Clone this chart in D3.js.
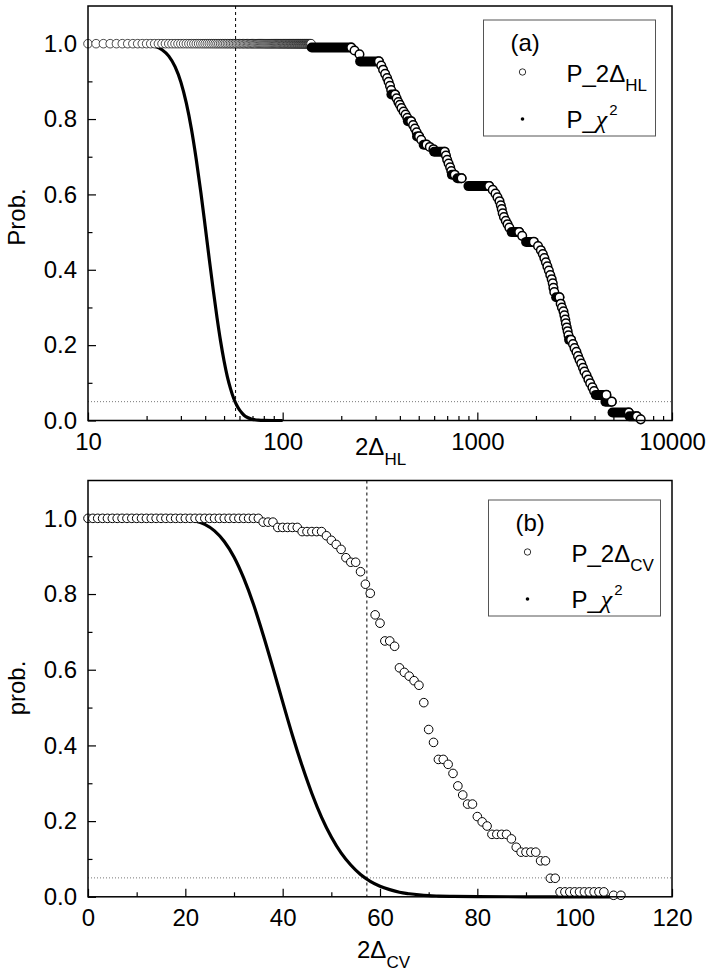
<!DOCTYPE html>
<html>
<head>
<meta charset="utf-8">
<script src="https://cdn.jsdelivr.net/npm/d3@7"></script>
<style>
  body { margin: 0; background: #fff; }
  svg text { font-family: Arial, "Liberation Sans", sans-serif; fill: #000; }
</style>
</head>
<body>
<svg id="chart" width="714" height="974"></svg>
<script>
// ---- chi-square survival curve ----
const chiX = [0, 5, 10, 15, 20, 22, 24, 26, 28, 30, 32, 34, 36, 38, 40, 42, 44, 46, 48, 50,
  52, 54, 56, 58, 60, 62, 64, 66, 68, 70, 72, 75, 80, 90, 100, 110];
const chiP = [1, 1, 1, 0.9999, 0.9976, 0.9933, 0.984, 0.967, 0.939, 0.898, 0.842, 0.773, 0.692,
  0.605, 0.515, 0.427, 0.346, 0.273, 0.21, 0.158, 0.116, 0.084, 0.059, 0.041, 0.028, 0.019,
  0.012, 0.008, 0.005, 0.003, 0.002, 0.001, 0.0003, 0, 0, 0];

// ---- panel (a): P_2Δ_HL ----
// open circles sitting on 1.0 at the left
const hlChainX = [10, 11, 12, 13, 14, 15, 16, 17, 18, 19, 20, 21, 22, 23, 24, 25, 26, 27, 28, 29,
  30, 31, 32, 33, 34, 35, 36, 37, 38, 39, 40, 41, 42, 43, 44, 45, 46, 47, 48, 49, 50, 51, 52, 53,
  54, 55, 56, 57, 58, 59, 60, 61, 62, 63, 64, 65, 66, 67, 68, 69, 70, 71, 72, 73, 74, 75, 76, 77,
  78, 79, 80, 81, 82, 83, 84, 85, 86, 87, 88, 89, 90, 91, 92, 93, 94, 95, 96, 97, 98, 99, 100,
  101, 102, 103, 104, 105, 106, 107, 108, 109, 110, 111, 112, 113, 114, 115, 116, 117, 118, 119,
  120, 121, 122, 123, 124, 125, 126, 127, 128, 129, 130, 131, 132, 133, 134, 135, 136, 137, 138,
  139, 140];
const hlChainLevel = 1.0;
// plateaus where circles pile up into black bars: [xStart, xEnd, prob]
const hlBands = [
  [141, 225, 0.99], [250, 312, 0.953], [362, 378, 0.865], [440, 457, 0.794], [490, 502, 0.754],
  [530, 548, 0.732], [600, 680, 0.713], [740, 765, 0.652], [790, 830, 0.643], [900, 1150, 0.622],
  [1500, 1640, 0.5], [1780, 1950, 0.474], [2540, 2640, 0.327], [2960, 3030, 0.214],
  [4060, 4600, 0.068], [4550, 4900, 0.05], [4950, 6000, 0.021], [6050, 6600, 0.011]
];
// single visible circles: [x, prob]
const hlDots = [
  [225, 0.99], [234, 0.982], [248, 0.972], [312, 0.953],
  [321, 0.942], [328, 0.931], [336, 0.92], [344, 0.909], [350, 0.899], [356, 0.888], [361, 0.877], [378, 0.865],
  [385, 0.855], [393, 0.845], [400, 0.838], [408, 0.829], [418, 0.82], [428, 0.812], [437, 0.803], [457, 0.794],
  [468, 0.784], [478, 0.775], [488, 0.765], [502, 0.754], [515, 0.745], [548, 0.732],
  [570, 0.726], [595, 0.72], [680, 0.713],
  [690, 0.703], [700, 0.692], [712, 0.682], [725, 0.672], [735, 0.662], [765, 0.652], [830, 0.643],
  [1150, 0.622], [1200, 0.612], [1240, 0.602], [1270, 0.592], [1300, 0.582], [1320, 0.571],
  [1335, 0.561], [1350, 0.55], [1370, 0.54], [1400, 0.53], [1430, 0.521], [1460, 0.512], [1640, 0.5],
  [1700, 0.49], [1950, 0.474],
  [2050, 0.463], [2120, 0.452], [2170, 0.442], [2210, 0.431], [2250, 0.42], [2290, 0.409],
  [2330, 0.398], [2370, 0.386], [2410, 0.375], [2440, 0.364], [2460, 0.352], [2485, 0.341], [2640, 0.327],
  [2680, 0.31], [2720, 0.3], [2770, 0.29], [2800, 0.279], [2830, 0.268], [2850, 0.258], [2880, 0.247],
  [2910, 0.237], [2940, 0.226], [3030, 0.214],
  [3100, 0.203], [3160, 0.192], [3230, 0.182], [3290, 0.171], [3350, 0.161], [3420, 0.151],
  [3490, 0.14], [3550, 0.13], [3640, 0.12], [3720, 0.109], [3800, 0.099], [3900, 0.088],
  [3980, 0.078], [4600, 0.068], [4900, 0.05], [6000, 0.021], [6600, 0.011], [6905, 0.003]
];

// ---- panel (b): P_2Δ_CV ----
const cvX = [0, 1, 2, 3, 4, 5, 6, 7, 8, 9, 10, 11, 12, 13, 14, 15, 16, 17, 18, 19, 20, 21, 22, 23,
  24, 25, 26, 27, 28, 29, 30, 31, 32, 33, 34, 35, 36, 37, 38, 39, 40, 41, 42, 43, 44, 45, 46, 47,
  48, 49, 50, 51, 52, 53, 54, 55, 56, 57, 58, 59, 60, 61, 62, 63, 64, 65, 66, 67, 68, 69, 70, 71,
  72, 73, 74, 75, 76, 77, 78, 79, 80, 81, 82, 83, 84, 85, 86, 87, 88, 89, 90, 91, 92, 93, 94, 95,
  96, 97, 98, 99, 100, 101, 102, 103, 104, 105, 106, 108, 109.5];
const cvP = [1, 1, 1, 1, 1, 1, 1, 1, 1, 1, 1, 1, 1, 1, 1, 1, 1, 1, 1, 1, 1, 1, 1, 1,
  1, 1, 1, 1, 1, 1, 1, 1, 1, 1, 1, 1, 0.99, 0.99, 0.99, 0.976, 0.976, 0.976, 0.976, 0.976,
  0.965, 0.965, 0.965, 0.965, 0.965, 0.954, 0.942, 0.931, 0.918, 0.896, 0.884, 0.884, 0.859,
  0.826, 0.802, 0.745, 0.723, 0.676, 0.676, 0.662, 0.605, 0.593, 0.583, 0.571, 0.559, 0.513,
  0.442, 0.408, 0.363, 0.363, 0.35, 0.326, 0.293, 0.269, 0.245, 0.245, 0.212, 0.198, 0.187,
  0.165, 0.165, 0.165, 0.165, 0.153, 0.131, 0.118, 0.118, 0.118, 0.118, 0.095, 0.095, 0.049,
  0.049, 0.013, 0.013, 0.013, 0.013, 0.013, 0.013, 0.013, 0.013, 0.013, 0.013, 0.004, 0.004];

// ---- axes / reference values ----
const yMajor = [0, 0.2, 0.4, 0.6, 0.8, 1.0];
const yMinor = [0.1, 0.3, 0.5, 0.7, 0.9];
const logMajor = [10, 100, 1000, 10000];
const logMinor = [20, 30, 40, 50, 60, 70, 80, 90, 200, 300, 400, 500, 600, 700, 800, 900,
  2000, 3000, 4000, 5000, 6000, 7000, 8000, 9000];
const linMajor = [0, 20, 40, 60, 80, 100, 120];
const linMinor = [10, 30, 50, 70, 90, 110];
const critX = 57.3;   // vertical dashed line
const critP = 0.05;   // horizontal dotted line

const svg = d3.select('#chart');
const left = 88, right = 672, R = 4.3;

function drawPanel(o) {
  const g = svg.append('g');
  const y = d3.scaleLinear().domain([0, 1.1]).range([o.bottom, o.top]);
  const x = o.x;

  // axes, ticks pointing inside
  const xAxis = g.append('g').attr('transform', `translate(0,${o.bottom})`)
    .call(d3.axisBottom(x).tickValues(o.xMajor).tickSizeInner(-8).tickSizeOuter(0)
      .tickPadding(12.5).tickFormat(d3.format('d')));
  g.append('g').attr('transform', `translate(0,${o.bottom})`)
    .call(d3.axisBottom(x).tickValues(o.xMinor).tickSizeInner(-4.5).tickSizeOuter(0).tickFormat(''));
  const yAxis = g.append('g').attr('transform', `translate(${left},0)`)
    .call(d3.axisLeft(y).tickValues(yMajor).tickSizeInner(-8).tickSizeOuter(0)
      .tickPadding(11).tickFormat(d3.format('.1f')));
  g.append('g').attr('transform', `translate(${left},0)`)
    .call(d3.axisLeft(y).tickValues(yMinor).tickSizeInner(-4.5).tickSizeOuter(0).tickFormat(''));
  g.selectAll('.domain').remove();
  g.selectAll('.tick line').attr('stroke', '#000').attr('stroke-width', 1.2);
  [xAxis, yAxis].forEach(a => a.attr('font-size', 24).attr('font-family', null)
    .selectAll('text').attr('fill', '#000'));

  // reference lines
  g.append('line').attr('x1', left).attr('x2', right).attr('y1', y(critP)).attr('y2', y(critP))
    .attr('stroke', '#777').attr('stroke-width', 1).attr('stroke-dasharray', '1,2');
  g.append('line').attr('x1', x(critX)).attr('x2', x(critX)).attr('y1', o.top).attr('y2', o.bottom)
    .attr('stroke', '#000').attr('stroke-width', 1).attr('stroke-dasharray', '3,3');

  // chi-square curve
  const pts = chiX.map((v, i) => [v, chiP[i]]).filter(d => d[0] >= o.chiMin && d[0] <= o.chiMax);
  g.append('path').datum(pts)
    .attr('d', d3.line().x(d => x(d[0])).y(d => y(d[1])).curve(d3.curveMonotoneX))
    .attr('fill', 'none').attr('stroke', '#000').attr('stroke-width', 3.2);

  // data circles
  o.drawData(g, x, y);

  // frame
  g.append('rect').attr('x', left).attr('y', o.top).attr('width', right - left)
    .attr('height', o.bottom - o.top).attr('fill', 'none').attr('stroke', '#000').attr('stroke-width', 1.5);

  // axis title
  const t = g.append('text').attr('x', o.titleX).attr('y', o.titleY).attr('font-size', 24).text('2Δ');
  t.append('tspan').attr('font-size', 17).attr('dy', 10).text(o.sub);

  g.append('text').attr('transform', `translate(25,${o.yTitleY}) rotate(-90)`)
    .attr('text-anchor', 'middle').attr('font-size', 24).text(o.yTitle);

  // legend
  const L = o.legend;
  g.append('rect').attr('x', L.x).attr('y', L.y).attr('width', L.w).attr('height', L.h)
    .attr('fill', '#fff').attr('stroke', '#555').attr('stroke-width', 1);
  g.append('text').attr('x', L.x + 27).attr('y', L.y + 31).attr('font-size', 24).text(o.tag);
  g.append('circle').attr('cx', L.x + 39).attr('cy', L.y + 52).attr('r', 3.2)
    .attr('fill', '#fff').attr('stroke', '#000').attr('stroke-width', 0.8);
  const l1 = g.append('text').attr('x', L.x + 83).attr('y', L.y + 62).attr('font-size', 24).text('P_2Δ');
  l1.append('tspan').attr('font-size', 17).attr('dy', 9).text(o.sub);
  g.append('circle').attr('cx', L.x + 39).attr('cy', L.y + 99).attr('r', 1.8).attr('fill', '#000');
  const l2 = g.append('text').attr('x', L.x + 83).attr('y', L.y + 108).attr('font-size', 24).text('P_');
  l2.append('tspan').attr('font-family', '"Liberation Serif", "DejaVu Serif", serif')
    .attr('font-style', 'italic').attr('font-size', 26).text('χ');
  l2.append('tspan').attr('font-size', 15).attr('dx', 2).attr('dy', -13).text('2');
}

function openCircle(sel, cx, cy, sw) {
  sel.append('circle').attr('cx', cx).attr('cy', cy).attr('r', R)
    .attr('fill', '#fff').attr('stroke', '#000').attr('stroke-width', sw);
}

// panel (a)
drawPanel({
  top: 6, bottom: 420.5,
  x: d3.scaleLog().domain([10, 10000]).range([left, right]),
  xMajor: logMajor, xMinor: logMinor,
  chiMin: 10, chiMax: 100,
  sub: 'HL', titleX: 355, titleY: 455, yTitle: 'Prob.', yTitleY: 217, tag: '(a)',
  legend: { x: 483.5, y: 20, w: 172, h: 116 },
  drawData(g, x, y) {
    const d = g.append('g');
    hlChainX.forEach(v => openCircle(d, x(v), y(hlChainLevel), 0.7));
    const marks = hlBands.map(b => ({ band: true, x0: b[0], x1: b[1], p: b[2] }))
      .concat(hlDots.map(p => ({ band: false, x0: p[0], p: p[1] })))
      .sort((a, b) => a.x0 - b.x0);
    marks.forEach(m => {
      if (m.band) {
        d.append('line').attr('x1', x(m.x0)).attr('x2', x(m.x1)).attr('y1', y(m.p)).attr('y2', y(m.p))
          .attr('stroke', '#000').attr('stroke-width', 2 * R + 1.4).attr('stroke-linecap', 'round');
      } else {
        openCircle(d, x(m.x0), y(m.p), 1.5);
      }
    });
  }
});

// panel (b)
drawPanel({
  top: 480.5, bottom: 896.8,
  x: d3.scaleLinear().domain([0, 120]).range([left, right]),
  xMajor: linMajor, xMinor: linMinor,
  chiMin: 0, chiMax: 110,
  sub: 'CV', titleX: 357, titleY: 958, yTitle: 'prob.', yTitleY: 688, tag: '(b)',
  legend: { x: 488.5, y: 500, w: 172, h: 116 },
  drawData(g, x, y) {
    const d = g.append('g');
    cvX.forEach((v, i) => openCircle(d, x(v), y(cvP[i]), 1));
  }
});
</script>
</body>
</html>
